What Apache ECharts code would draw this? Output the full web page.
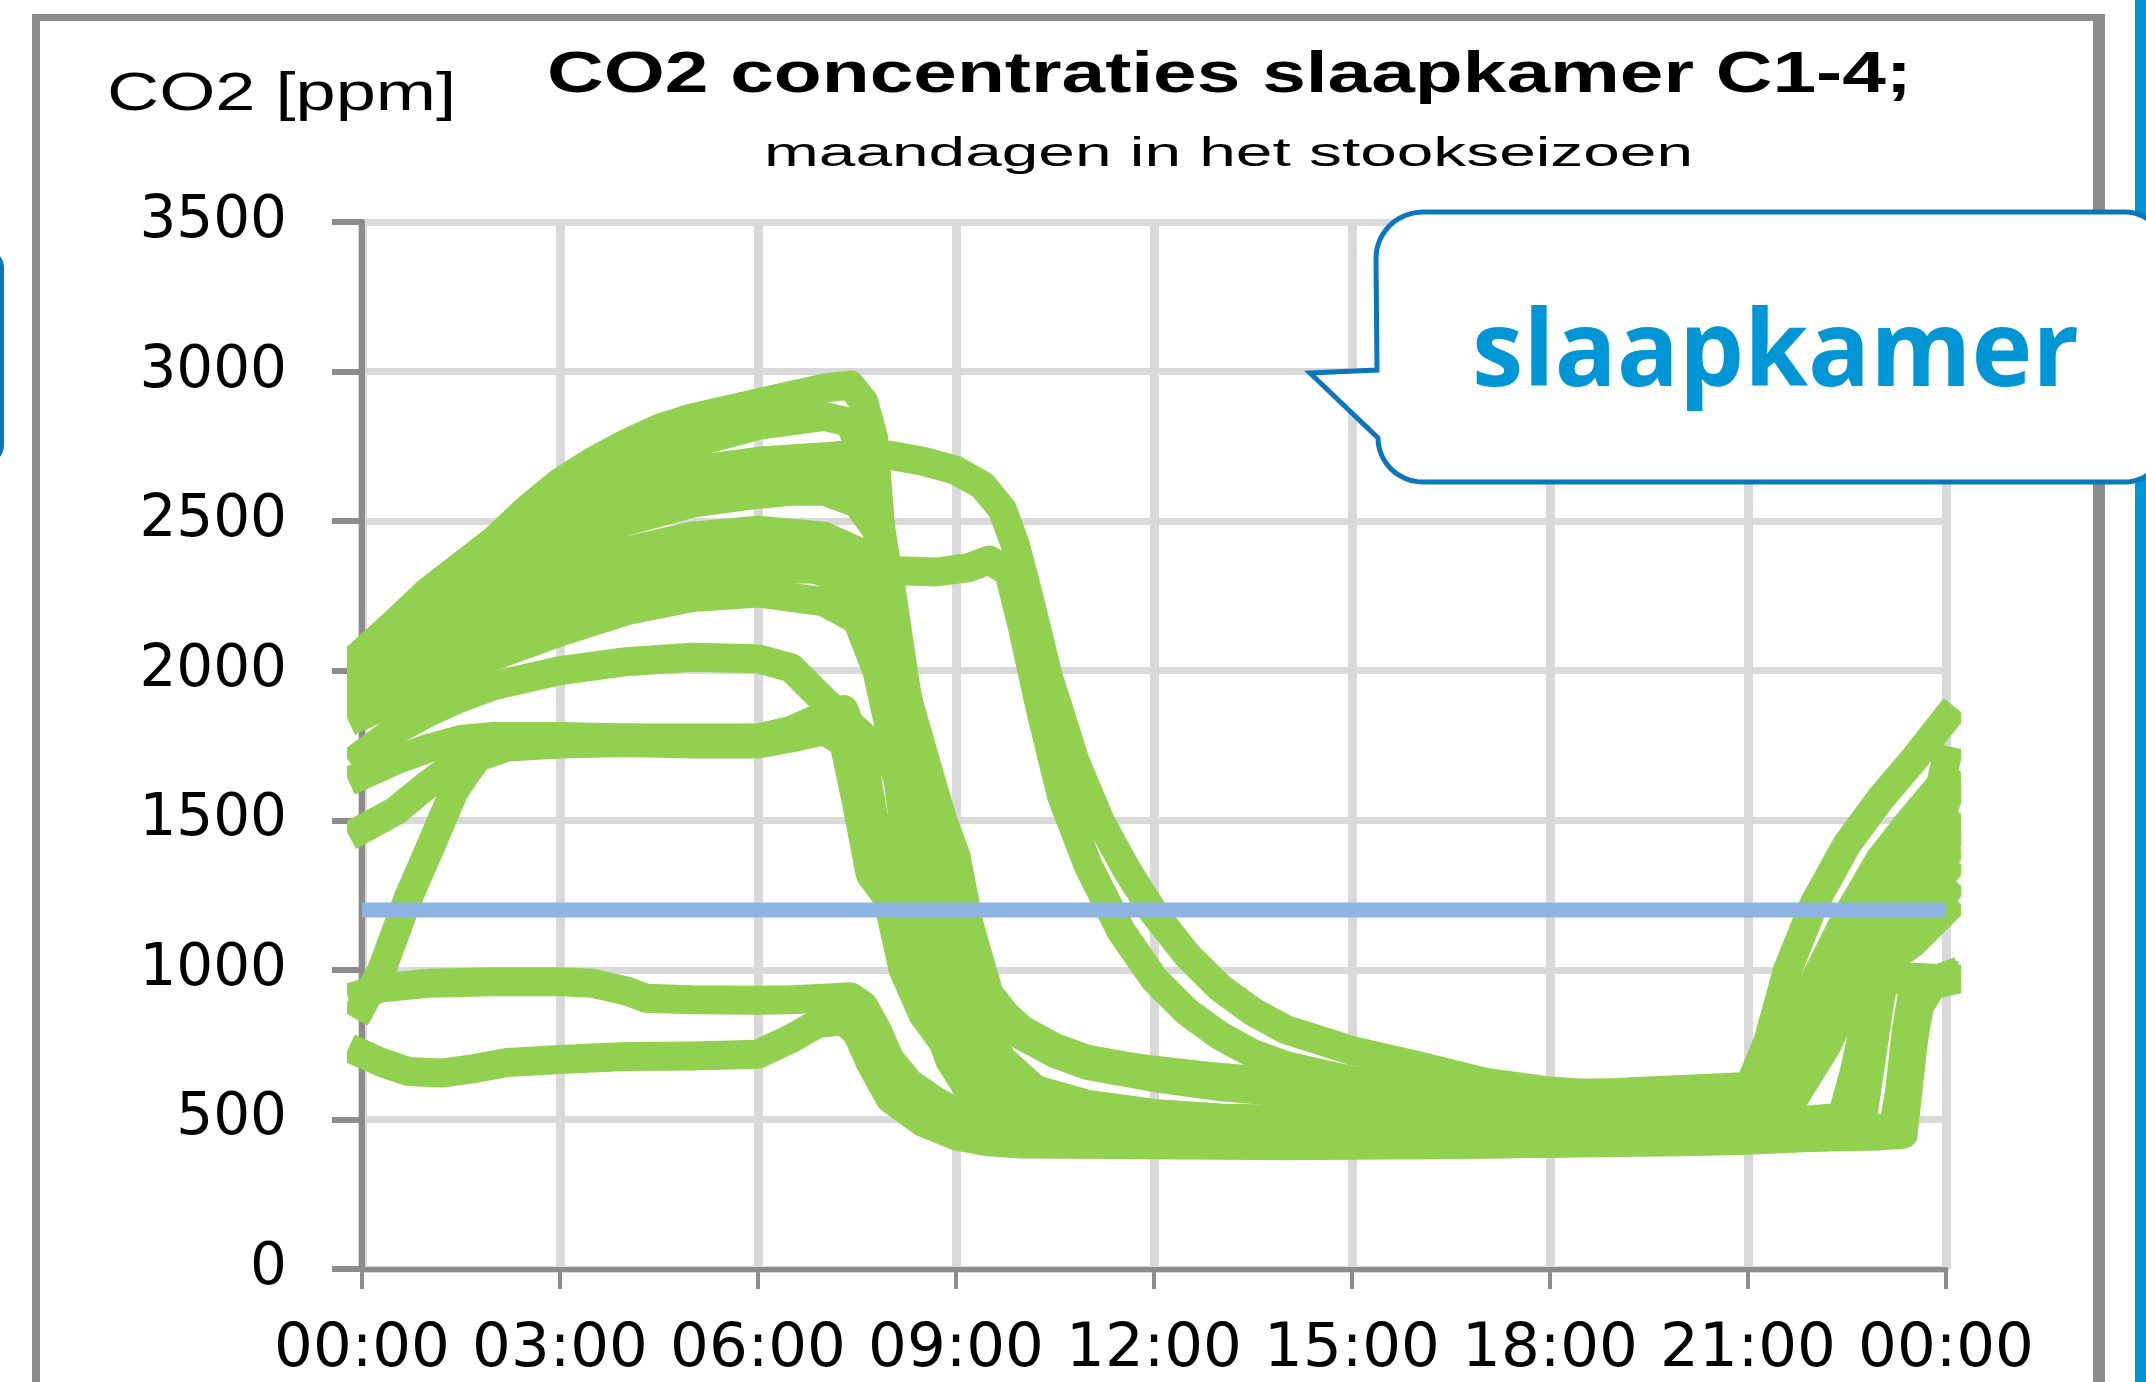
<!DOCTYPE html>
<html>
<head>
<meta charset="utf-8">
<script src="https://cdn.jsdelivr.net/npm/echarts@6/dist/echarts.min.js"></script>
<style>
html,body{margin:0;padding:0;background:#ffffff;overflow:hidden;}
#chart{width:2146px;height:1382px;}
</style>
</head>
<body>
<div id="chart"></div>
<script>
// ---------- texts ----------
const titleText = 'CO2 concentraties slaapkamer C1-4;';
const subtitleText = 'maandagen in het stookseizoen';
const yAxisTitle = 'CO2 [ppm]';
const calloutText = 'slaapkamer';

// ---------- axes ----------
const xTickLabels = ['00:00','03:00','06:00','09:00','12:00','15:00','18:00','21:00','00:00'];
const xMin = 0, xMax = 24, xStep = 3;      // hours of the day
const yMin = 0, yMax = 3500, yStep = 500;  // ppm
const referenceLevel = 1200;               // ppm guide line

// ---------- series: [hour, ppm] per Monday ----------
const day01 = [[0,2060],[0.5,2160],[1,2265],[1.5,2350],[2,2435],[2.5,2540],[3,2630],[3.5,2700],[4,2760],[4.5,2810],[5,2845],[5.5,2870],[6,2895],[6.5,2920],[7,2945],[7.4,2955],[7.6,2900],[7.75,2780],[7.85,2500],[7.95,2150],[8.1,1850],[8.3,1550],[8.5,1250],[8.7,1000],[9,760],[9.4,600],[9.9,500],[10.5,455],[11.5,440],[13,430],[15,425],[17,425],[19,430],[21,445],[22,460],[22.5,470],[22.75,520],[22.85,800],[23,1000],[23.5,1180],[24,1420]];
const day02 = [[0,2000],[0.5,2110],[1,2200],[1.5,2290],[2,2380],[3,2520],[4,2610],[5,2670],[6,2700],[7,2715],[7.5,2725],[8,2720],[8.5,2700],[9,2670],[9.4,2620],[9.7,2540],[9.9,2420],[10.1,2250],[10.4,1980],[10.8,1700],[11.2,1490],[11.6,1330],[12,1190],[12.5,1050],[13,940],[13.5,860],[14,800],[15,730],[16,680],[17,625],[18,595],[19,580],[20,580],[21,600],[21.3,760],[21.6,1000],[22,1220],[22.5,1420],[23,1570],[23.5,1700],[24,1840]];
const day03 = [[0,1950],[1,2100],[2,2200],[3,2270],[4,2310],[5,2330],[6,2340],[7,2340],[8,2335],[8.7,2330],[9.2,2345],[9.5,2370],[9.8,2330],[10,2150],[10.3,1850],[10.6,1580],[11,1350],[11.5,1130],[12,970],[12.5,860],[13,780],[13.5,720],[14,680],[15,630],[16,600],[17,580],[18,560],[19,550],[20,550],[21,570],[21.5,720],[22,960],[22.5,1180],[23,1370],[23.5,1510],[24,1640]];
const day04 = [[0,1990],[1,2150],[2,2300],[3,2420],[4,2500],[5,2560],[6,2590],[6.5,2600],[7,2600],[7.5,2560],[7.8,2470],[8,2300],[8.2,2000],[8.4,1720],[8.6,1480],[8.8,1260],[9,1060],[9.3,860],[9.7,700],[10.2,600],[11,540],[12,510],[13,495],[14,485],[16,475],[18,475],[20,480],[21,490],[22,500],[22.6,510],[22.75,600],[22.9,850],[23.1,1050],[23.5,1250],[24,1560]];
const day05 = [[0,1930],[1,2080],[2,2200],[3,2320],[4,2400],[5,2450],[6,2470],[7,2450],[7.5,2400],[7.9,2250],[8.1,2050],[8.3,1880],[8.6,1650],[8.8,1500],[9,1380],[9.2,1150],[9.5,920],[10,780],[10.5,720],[11,680],[12,640],[13,610],[14,590],[15,575],[16,565],[18,555],[20,555],[21,560],[21.5,580],[22,760],[22.5,900],[23,960],[23.5,975],[24,970]];
const day06 = [[0,1880],[1,2000],[2,2120],[3,2220],[4,2290],[5,2330],[6,2350],[6.5,2360],[7,2330],[7.5,2250],[7.8,2100],[8,1850],[8.2,1500],[8.4,1150],[8.6,900],[8.9,700],[9.3,560],[10,480],[11,450],[12,440],[14,430],[16,430],[18,435],[20,440],[21,440],[22,440],[23,445],[23.35,450],[23.45,650],[23.55,850],[23.7,955],[24,980]];
const day07 = [[0,1850],[1,1950],[2,2050],[3,2130],[4,2200],[5,2245],[6,2260],[7,2230],[7.5,2170],[7.8,2000],[8.1,1700],[8.3,1400],[8.5,1150],[8.7,950],[9,780],[9.5,620],[10,540],[11,480],[12,460],[14,450],[16,445],[18,450],[20,455],[21,455],[22,470],[22.4,490],[22.6,650],[22.8,850],[23,1000],[23.5,1150],[24,1450]];
const day08 = [[0,1720],[0.5,1800],[1,1860],[1.5,1910],[2,1950],[3,2000],[4,2030],[5,2045],[6,2040],[6.5,2010],[7,1900],[7.5,1800],[8,1700],[8.3,1550],[8.6,1350],[8.9,1150],[9.2,980],[9.6,850],[10,780],[10.5,730],[11,700],[12,660],[13,640],[14,620],[15,605],[16,595],[17,585],[18,585],[19,590],[20,600],[21,610],[21.2,620],[21.8,780],[22.3,960],[22.8,1150],[23.3,1330],[24,1500]];
const day09 = [[0,1470],[0.5,1530],[1,1620],[1.5,1700],[2,1750],[3,1775],[4,1775],[5,1775],[6,1775],[6.5,1800],[7,1850],[7.3,1870],[7.6,1700],[7.8,1450],[8,1200],[8.2,1000],[8.5,850],[9,700],[9.5,600],[10,540],[11,490],[12,470],[13,460],[14,450],[16,445],[18,445],[20,445],[21,450],[22,460],[23,470],[23.2,470],[23.3,600],[23.4,800],[23.5,930],[23.7,965],[24,975]];
const day10 = [[0,880],[0.3,1000],[0.7,1240],[1.1,1444],[1.4,1600],[1.75,1711],[2.2,1745],[3,1755],[4,1760],[5,1755],[6,1755],[6.5,1775],[7,1800],[7.3,1760],[7.5,1550],[7.7,1320],[8,1230],[8.4,1180],[8.8,1100],[9.2,980],[9.6,880],[10,800],[10.5,740],[11,700],[11.5,680],[12,665],[13,640],[14,620],[15,605],[16,590],[18,575],[20,565],[21,570],[21.3,600],[22,700],[22.6,900],[23,1020],[23.4,1150],[24,1330]];
const day11 = [[0,920],[0.3,940],[1,955],[2,960],[3,960],[3.5,955],[4,930],[4.3,905],[5,900],[6,898],[6.5,900],[7,905],[7.4,910],[7.6,880],[7.8,800],[8,700],[8.3,620],[8.7,560],[9.2,500],[10,460],[11,440],[12,430],[14,420],[16,415],[18,420],[20,430],[21,440],[22,450],[22.7,460],[22.8,600],[23,900],[23.2,1100],[23.6,1300],[24,1700]];
const day12 = [[0,720],[0.3,690],[0.7,660],[1.2,655],[1.7,670],[2.2,690],[3,700],[4,710],[5,712],[6,718],[6.5,770],[6.9,820],[7.3,830],[7.5,790],[7.7,690],[8,570],[8.5,490],[9,445],[9.5,425],[10,418],[12,415],[14,412],[16,415],[18,420],[20,425],[21,430],[22,440],[23,450],[23.3,460],[23.45,700],[23.6,880],[23.8,950],[24,960]];
const day13 = [[0,2030],[1,2220],[2,2400],[3,2560],[4,2680],[5,2760],[6,2820],[7,2850],[7.4,2830],[7.6,2700],[7.8,2480],[8,2100],[8.3,1700],[8.6,1300],[9,950],[9.5,700],[10,580],[11,500],[12,470],[14,450],[16,440],[18,440],[20,450],[21,470],[21.5,520],[22.2,760],[22.8,980],[23.3,1150],[24,1380]];
const day14 = [[0,1650],[0.5,1700],[1,1740],[1.5,1770],[2,1780],[3,1780],[4,1775],[5,1770],[6,1775],[6.5,1800],[7,1830],[7.3,1800],[7.6,1600],[7.9,1350],[8.2,1100],[8.5,900],[8.8,760],[9.2,650],[9.8,560],[10.5,500],[11.5,470],[13,455],[15,450],[17,450],[19,455],[21,470],[21.5,500],[22.2,750],[22.6,950],[23,1050],[23.5,1120],[24,1260]];
const day15 = [[0,1910],[1,2050],[2,2170],[3,2270],[4,2350],[5,2390],[6,2400],[7,2390],[7.5,2350],[7.8,2250],[8,2050],[8.2,1800],[8.4,1550],[8.6,1300],[8.8,1100],[9,950],[9.3,800],[9.7,680],[10.2,600],[11,550],[12,520],[13,505],[14,500],[16,495],[18,500],[20,505],[21,510],[21.5,540],[22.1,760],[22.6,930],[23,1010],[23.5,1090],[24,1200]];
const day16 = [[0,2045],[1,2240],[2,2390],[3,2500],[4,2570],[5,2620],[6,2650],[7,2660],[7.5,2640],[7.8,2560],[7.95,2350],[8.1,2000],[8.3,1650],[8.5,1350],[8.7,1100],[9,850],[9.4,650],[10,530],[11,470],[12,450],[14,440],[16,435],[18,440],[20,445],[21,450],[22,455],[22.5,470],[22.7,560],[22.85,850],[23.1,1100],[23.5,1300],[24,1600]];

const days = [day01,day02,day03,day04,day05,day06,day07,day08,day09,day10,day11,day12,day13,day14,day15,day16];
const referenceLine = [[xMin, referenceLevel],[xMax, referenceLevel]];

// ---------- helpers ----------
const measureCtx = document.createElement('canvas').getContext('2d');
function stretchTo(text, weight, size, family, targetWidth) {
  measureCtx.font = weight + ' ' + size + 'px ' + family;
  return targetWidth / measureCtx.measureText(text).width;
}
function textEl(text, x, y, size, weight, family, fill, targetWidth, z) {
  return {
    type: 'text', x: x, y: y, z: z || 10, silent: true,
    scaleX: stretchTo(text, weight, size, family, targetWidth),
    style: {
      text: text, fontSize: size, fontWeight: weight, fontFamily: family, fill: fill,
      align: 'left', verticalAlign: 'middle', textAlign: 'left', textVerticalAlign: 'middle'
    }
  };
}
// points of a quarter ellipse arc (for the callout outline)
function arc(cx, cy, rx, ry, a0, a1) {
  const pts = [];
  const n = 12;
  for (let i = 0; i <= n; i++) {
    const a = (a0 + (a1 - a0) * i / n) * Math.PI / 180;
    pts.push([cx + rx * Math.cos(a), cy + ry * Math.sin(a)]);
  }
  return pts;
}
const bubblePoints = [].concat(
  arc(1423, 258, 47, 46, 180, 270),
  arc(2125, 252, 40, 40, 270, 360),
  arc(2125, 442, 40, 40, 0, 90),
  arc(1423, 438, 45, 44, 90, 180),
  [[1310, 373], [1377, 370]]
);

const GREEN = '#92d050';
const FRAME = '#8c8c8c';
const GRID = '#d9d9d9';

const chart = echarts.init(document.getElementById('chart'), null, {renderer: 'canvas', width: 2146, height: 1382});

const series = days.map((d, i) => ({
  name: 'maandag ' + (i + 1),
  type: 'line',
  data: d,
  symbol: 'none',
  smooth: false,
  clip: false,
  silent: true,
  z: 2,
  lineStyle: {color: GREEN, width: 29, cap: 'square', join: 'round'}
}));
series.push({
  name: 'grens',
  type: 'line',
  data: referenceLine,
  symbol: 'none',
  clip: false,
  silent: true,
  z: 3,
  lineStyle: {color: '#8eb4e3', width: 15}
});

const option = {
  animation: false,
  backgroundColor: '#ffffff',
  grid: {left: 362, right: 200, top: 222, bottom: 113, containLabel: false},
  xAxis: {
    type: 'value', min: xMin, max: xMax, interval: xStep,
    axisLine: {show: true, onZero: false, lineStyle: {color: FRAME, width: 5}},
    axisTick: {show: true, inside: false, length: 20, lineStyle: {color: FRAME, width: 4}},
    axisLabel: {
      formatter: v => xTickLabels[Math.round((v - xMin) / xStep)],
      fontFamily: 'DejaVu Sans', fontSize: 61, color: '#000', margin: 51
    },
    splitLine: {show: true, lineStyle: {color: GRID, width: 9}}
  },
  yAxis: {
    type: 'value', min: yMin, max: yMax, interval: yStep,
    axisLine: {show: true, lineStyle: {color: FRAME, width: 6}},
    axisTick: {show: true, inside: false, length: 30, lineStyle: {color: FRAME, width: 6}},
    axisLabel: {formatter: v => String(v), fontFamily: 'DejaVu Sans', fontSize: 58, color: '#000', margin: 75},
    splitLine: {show: true, lineStyle: {color: GRID, width: 7}}
  },
  graphic: {
    elements: [
      // outer frame
      {type: 'line', silent: true, z: 1, shape: {x1: 32, y1: 17.5, x2: 2105, y2: 17.5}, style: {stroke: FRAME, lineWidth: 7}},
      {type: 'line', silent: true, z: 1, shape: {x1: 36, y1: 14, x2: 36, y2: 1382}, style: {stroke: FRAME, lineWidth: 8}},
      {type: 'line', silent: true, z: 1, shape: {x1: 2099, y1: 14, x2: 2099, y2: 1382}, style: {stroke: FRAME, lineWidth: 12}},
      {type: 'rect', silent: true, z: 1, shape: {x: 2135, y: 0, width: 11, height: 1382}, style: {fill: '#0096d6'}},
      {type: 'rect', silent: true, z: 1, shape: {x: -60, y: 250, width: 62, height: 213, r: 18}, style: {fill: 'none', stroke: '#0b76bc', lineWidth: 4}},
      // titles
      textEl(titleText, 547, 76, 57, 'bold', '"Liberation Sans"', '#000', 1365),
      textEl(subtitleText, 764, 155, 40, 'normal', '"Liberation Sans"', '#000', 929),
      textEl(yAxisTitle, 107, 95, 54, 'normal', '"Liberation Sans"', '#000', 349),
      // callout bubble
      {type: 'polygon', silent: true, z: 50,
        shape: {points: bubblePoints},
        style: {fill: '#ffffff', stroke: '#0b76bc', lineWidth: 5}},
      textEl(calloutText, 1472, 356, 106, 'bold', '"Open Sans"', '#0096d6', 607, 51)
    ]
  },
  series: series
};
chart.setOption(option);
</script>
</body>
</html>
